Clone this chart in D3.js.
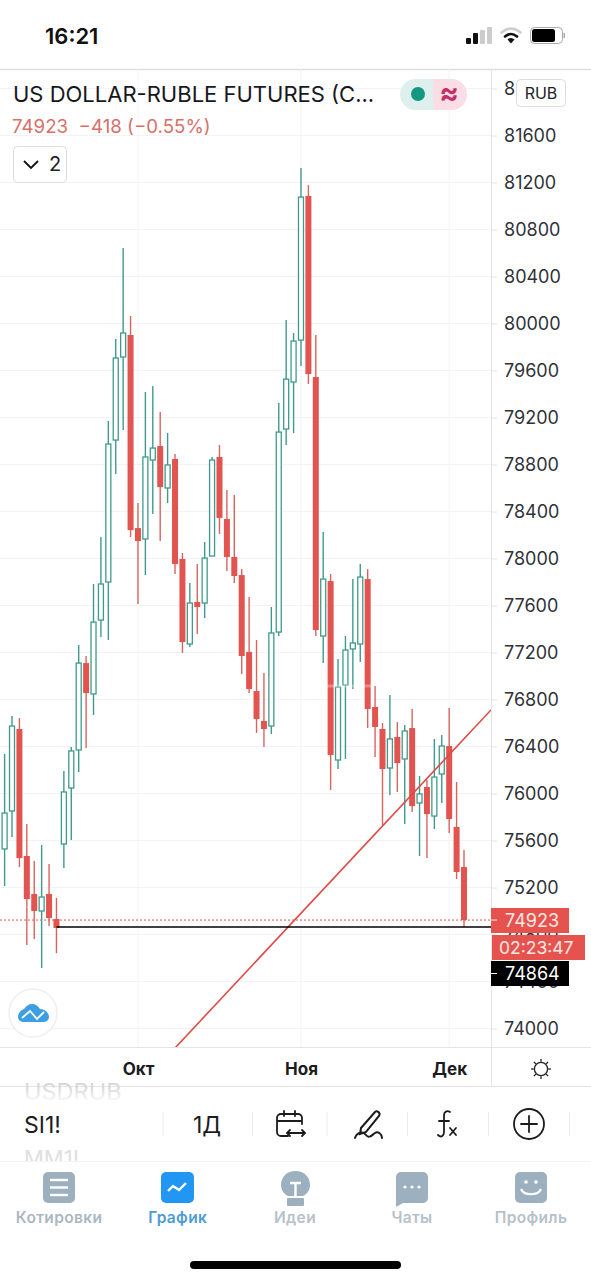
<!DOCTYPE html>
<html><head><meta charset="utf-8">
<script src="https://cdn.jsdelivr.net/npm/d3@7"></script>
<style>
html,body{margin:0;padding:0;background:#fff}
svg{display:block}
text{font-family:Inter,"Noto Sans",sans-serif}
</style></head><body>
<svg id="c" width="591" height="1280" viewBox="0 0 591 1280"></svg>
<script>
const opens=[75528,75851,76549,75468,75145,75000,75145,74932,75570,76047,
76370,77110,76847,77476,77800,79008,79715,79902,78259,78166,
78838,78957,78600,78847,77996,77272,77630,77621,78021,78864,
78336,78013,77859,77204,76872,76617,76574,77374,79102,79502,
79859,81085,79545,77340,77808,76285,76923,77230,77272,77825,
76736,76549,76217,76481,76294,76557,75919,76055,75808,76166,
76404,75715,75374];
const closes=[75834,76574,75451,75102,75000,75119,74940,74855,76013,76362,
77110,76855,77459,77783,78974,79706,79919,78242,78149,78864,
78940,78608,78796,77953,77289,77621,77587,78004,78838,78345,
78013,77851,77170,76889,76634,76549,77366,79076,79527,79851,
81076,79570,77391,77825,76328,76906,77221,77281,77842,76719,
76566,76208,76464,76259,76532,75893,75996,75825,76140,76404,
75783,75332,74923];
const highs=[76336,76659,76642,75740,75425,75562,75400,75111,76191,76396,
77264,77170,77783,78183,79170,79868,80642,80064,78472,79417,
79468,79247,79068,78889,78047,77791,77953,78140,78864,78966,
78583,78540,77910,77672,77306,77025,77587,79323,80030,79919,
81323,81179,79902,78225,77868,77145,77340,77825,77953,77910,
76915,76600,76838,76608,76583,76719,76149,76115,76464,76498,
76727,76098,75519];
const lows=[75213,75630,75374,74710,74762,74515,74872,74642,75366,75604,
76183,76387,76668,77332,77306,78719,79093,78183,77613,77859,
78379,78149,78472,77868,77196,77247,77357,77493,78021,78208,
77893,77791,77017,76855,76515,76396,76506,77340,78966,79068,
79638,79485,77340,77110,76030,76208,76294,76889,77119,76557,
76311,75732,75987,76013,75740,75842,75468,75451,75698,75919,
75664,75272,74864];
const priceTicks=[74000,74400,74800,75200,75600,76000,76400,76800,77200,77600,78000,78400,78800,79200,79600,80000,80400,80800,81200,81600,82000];
const monthIndex=[18,40,60];
const monthLabels=["Окт","Ноя","Дек"];
const trendIndex=[23,65.64];
const trendPrice=[73834,76711];
const lastPrice=74923;
const drawnLevel=74864;
const drawnLevelStart=7;
const titleText="US DOLLAR-RUBLE FUTURES (C...";
const changeText="74923  −418 (−0.55%)";
const countdownText="02:23:47";
const tabLabels=["Котировки","График","Идеи","Чаты","Профиль"];

const RED="#e2544f",GREEN="#3f9a8d",GRID="#f2f3f6",BORDER="#e3e4e8";
const svg=d3.select("#c");
const x=d3.scaleLinear().domain([0,62]).range([4.6,464]);
const y=d3.scaleLinear().domain([74000,82000]).range([1028.5,88.5]);
const plotRight=491,plotTop=69,plotBottom=1048;
const defs=svg.append("defs");
defs.append("clipPath").attr("id","plot").append("rect").attr("x",0).attr("y",plotTop).attr("width",plotRight).attr("height",plotBottom-plotTop);
const fade=defs.append("linearGradient").attr("id","fadeDown").attr("x1",0).attr("x2",0).attr("y1",0).attr("y2",1);
fade.append("stop").attr("offset",0).attr("stop-color","#fff").attr("stop-opacity",0);
fade.append("stop").attr("offset",1).attr("stop-color","#fff").attr("stop-opacity",1);

// status bar
svg.append("text").attr("x",45).attr("y",44).attr("font-size",22).attr("font-weight",600).attr("fill","#111").text("16:21");
[[466,38,5,6,"#111"],[473,33,5,11,"#111"],[480,30,5,14,"#ccc"],[487,27,5,17,"#ccc"]].forEach(b=>
  svg.append("rect").attr("x",b[0]).attr("y",b[1]).attr("width",b[2]).attr("height",b[3]).attr("rx",1).attr("fill",b[4]));
const wifi=svg.append("g").attr("fill","none").attr("stroke-linecap","round");
wifi.append("path").attr("d","M501.5 32.5Q511 24.5 520.5 32.5").attr("stroke","#ccc").attr("stroke-width",2.6);
wifi.append("path").attr("d","M505 36.5Q511 31.5 517 36.5").attr("stroke","#111").attr("stroke-width",2.6);
svg.append("path").attr("d","M507.5 39.5Q511 36.5 514.5 39.5L511 43.5Z").attr("fill","#111");
svg.append("rect").attr("x",530.5).attr("y",27.5).attr("width",32).attr("height",16).attr("rx",4).attr("fill","none").attr("stroke","#aaa");
svg.append("rect").attr("x",532).attr("y",29).attr("width",23).attr("height",13).attr("rx",2.5).attr("fill","#000");
svg.append("rect").attr("x",563.5).attr("y",33).attr("width",1.5).attr("height",5).attr("fill","#aaa");
svg.append("line").attr("x1",0).attr("x2",591).attr("y1",69.5).attr("y2",69.5).attr("stroke","#dfdfdf").attr("stroke-width",1.5);

// grid
const grid=svg.append("g").attr("clip-path","url(#plot)");
grid.selectAll("line.h").data(priceTicks).join("line").attr("class","h")
  .attr("x1",0).attr("x2",plotRight).attr("y1",d=>y(d)).attr("y2",d=>y(d)).attr("stroke",GRID);
grid.selectAll("line.v").data(monthIndex).join("line").attr("class","v")
  .attr("x1",d=>x(d)).attr("x2",d=>x(d)).attr("y1",plotTop).attr("y2",plotBottom).attr("stroke",GRID);

// price axis
const yAxis=d3.axisRight(y).tickValues(priceTicks).tickSize(6).tickPadding(7).tickFormat(d3.format("d"));
const gy=svg.append("g").attr("transform",`translate(${plotRight},0)`).call(yAxis);
gy.select(".domain").remove();
gy.selectAll(".tick line").attr("stroke",BORDER);
gy.selectAll(".tick text").attr("font-size",18).attr("font-family","Roboto").attr("fill","#2f3238").attr("dy","0.36em");

// candles
const idx=d3.range(opens.length);
const plot=svg.append("g").attr("clip-path","url(#plot)");
const up=i=>closes[i]>=opens[i];
plot.selectAll("line.wick").data(idx).join("line").attr("class","wick")
  .attr("x1",i=>x(i)).attr("x2",i=>x(i)).attr("y1",i=>y(highs[i])).attr("y2",i=>y(lows[i]))
  .attr("stroke",i=>up(i)?GREEN:"#d9645f").attr("stroke-width",1.4);
plot.selectAll("rect.body").data(idx).join("rect").attr("class","body")
  .attr("x",i=>x(i)-(up(i)?2.5:3))
  .attr("width",i=>up(i)?5:6)
  .attr("y",i=>y(Math.max(opens[i],closes[i])))
  .attr("height",i=>Math.max(1,Math.abs(y(opens[i])-y(closes[i]))))
  .attr("fill",i=>up(i)?"#fff":RED)
  .attr("stroke",i=>up(i)?GREEN:"none").attr("stroke-width",1.3);
// pale band that crosses the candles in the reference
plot.append("rect").attr("x",326).attr("y",684.5).attr("width",46).attr("height",3).attr("fill","#fff").attr("opacity",0.3);

// drawings
plot.append("line").attr("x1",x(trendIndex[0])).attr("y1",y(trendPrice[0])).attr("x2",x(trendIndex[1])).attr("y2",y(trendPrice[1]))
  .attr("stroke","#de4b46").attr("stroke-width",1.6);
plot.append("line").attr("x1",0).attr("x2",plotRight).attr("y1",y(lastPrice)).attr("y2",y(lastPrice))
  .attr("stroke",RED).attr("stroke-width",1).attr("stroke-dasharray","2 2");
plot.append("line").attr("x1",x(drawnLevelStart)).attr("x2",plotRight).attr("y1",y(drawnLevel)).attr("y2",y(drawnLevel))
  .attr("stroke","#000").attr("stroke-width",1.5);

// borders and time axis
svg.append("rect").attr("x",0).attr("y",plotBottom+0.5).attr("width",591).attr("height",38).attr("fill","#fff");
svg.append("line").attr("x1",0).attr("x2",591).attr("y1",1047.5).attr("y2",1047.5).attr("stroke",BORDER);
svg.append("line").attr("x1",0).attr("x2",591).attr("y1",1086.5).attr("y2",1086.5).attr("stroke",BORDER);
svg.append("line").attr("x1",491.5).attr("x2",491.5).attr("y1",70).attr("y2",1087).attr("stroke",BORDER);
const xAxis=d3.axisBottom(x).tickValues(monthIndex).tickSize(0).tickPadding(0).tickFormat((d,i)=>monthLabels[i]);
const gx=svg.append("g").attr("transform","translate(0,1048)").call(xAxis);
gx.select(".domain").remove();
gx.selectAll(".tick text").attr("y",27).attr("dy",0).attr("font-size",17).attr("font-weight",700).attr("fill","#1c1c1e");

// sun
const sun=svg.append("g").attr("transform","translate(541,1069)").attr("stroke","#222").attr("stroke-width",1.3).attr("fill","none");
sun.append("circle").attr("r",6.6);
d3.range(8).forEach(i=>{const a=i*Math.PI/4;sun.append("line").attr("x1",7.2*Math.cos(a)).attr("y1",7.2*Math.sin(a)).attr("x2",10*Math.cos(a)).attr("y2",10*Math.sin(a));});

// price labels
function tag(x0,w,y0,h,fill,txt,tx,col,fs){
  svg.append("rect").attr("x",x0).attr("y",y0).attr("width",w).attr("height",h).attr("fill",fill);
  svg.append("text").attr("x",tx).attr("y",y0+h/2+6.4).attr("font-size",fs).attr("font-family","Roboto").attr("fill",col).text(txt);
}
tag(491,78,908,25,"#e6534f",String(lastPrice),505,"#ffe9e6",18);
tag(492,93,935,25,"#e6534f",countdownText,499,"#ffe9e6",17.5);
tag(491,78,961,25,"#000",String(drawnLevel),505,"#fff",18);
svg.append("line").attr("x1",491).attr("x2",497).attr("y1",y(lastPrice)).attr("y2",y(lastPrice)).attr("stroke","#ffe9e6");
svg.append("line").attr("x1",491).attr("x2",497).attr("y1",973.5).attr("y2",973.5).attr("stroke","#fff");

// legend overlay
svg.append("text").attr("x",13).attr("y",102).attr("font-size",22).attr("fill","#17181c").text(titleText);
svg.append("text").attr("x",12).attr("y",133).attr("font-size",18.7).attr("fill","#d8706a").style("white-space","pre").text(changeText);
svg.append("path").attr("d","M433 79H415.5a15.5 15.5 0 0 0 0 31H433Z").attr("fill","#def0ed");
svg.append("path").attr("d","M433 79H451.5a15.5 15.5 0 0 1 0 31H433Z").attr("fill","#fbdde6");
svg.append("circle").attr("cx",418).attr("cy",94).attr("r",7).attr("fill","#14977f");
svg.append("text").attr("x",449).attr("y",103).attr("text-anchor","middle").attr("font-size",29).attr("font-weight",700).attr("fill","#c42f66").text("≈");
svg.append("rect").attr("x",516.5).attr("y",79.5).attr("width",49).attr("height",27).attr("rx",4).attr("fill","#fff").attr("stroke","#dcdde0");
svg.append("text").attr("x",541).attr("y",99).attr("text-anchor","middle").attr("font-size",16).attr("fill","#222").text("RUB");
svg.append("rect").attr("x",13.5).attr("y",146.5).attr("width",53).attr("height",36).attr("rx",4).attr("fill","#fff").attr("stroke","#dcdde0");
svg.append("path").attr("d","M24 161l7 7 7-7").attr("fill","none").attr("stroke","#111").attr("stroke-width",1.8);
svg.append("text").attr("x",49).attr("y",171).attr("font-size",20).attr("fill","#222").text("2");

// logo
svg.append("circle").attr("cx",33).attr("cy",1013).attr("r",24).attr("fill","#fff").attr("stroke","#eeeff1").attr("stroke-width",1.5);
svg.append("path").attr("d","M18 1017c0-4 3-7 6-8 2-3 5-5 8-5 4 0 6 2 8 5 5 0 9 4 9 8 0 3-3 5-6 5H24c-3 0-6-2-6-5Z").attr("fill","#3d9fe3");
svg.append("path").attr("d","M22 1018l8-7 7 8 7-7").attr("fill","none").attr("stroke","#fff").attr("stroke-width",1.8);

// toolbar
svg.append("rect").attr("x",0).attr("y",1087.5).attr("width",591).attr("height",192).attr("fill","#fff");
svg.append("text").attr("x",24).attr("y",1099.5).attr("font-size",23.5).attr("fill","#d9d9d9").text("USDRUB");
svg.append("rect").attr("x",0).attr("y",1087.5).attr("width",200).attr("height",16).attr("fill","url(#fadeDown)");
svg.append("text").attr("x",24).attr("y",1133).attr("font-size",23).attr("fill","#1c1c1e").text("SI1!");
svg.append("text").attr("x",24).attr("y",1166).attr("font-size",22).attr("fill","#e0e0e0").text("MM1!");
svg.append("rect").attr("x",0).attr("y",1161.5).attr("width",591).attr("height",118).attr("fill","#fff");
svg.append("line").attr("x1",0).attr("x2",591).attr("y1",1161.5).attr("y2",1161.5).attr("stroke","#f4f4f4");
svg.append("text").attr("x",207).attr("y",1133).attr("text-anchor","middle").attr("font-size",23).attr("fill","#1c1c1e").text("1Д");
[163,252.5,327,407.5,488.5,569.5].forEach(s=>svg.append("line").attr("x1",s).attr("x2",s).attr("y1",1112).attr("y2",1136).attr("stroke","#ebebeb"));
const ic=svg.append("g").attr("fill","none").attr("stroke","#1c1c1e").attr("stroke-width",1.8).attr("stroke-linecap","round");
ic.append("path").attr("d","M288 1136h-7a4 4 0 0 1-4-4v-14a4 4 0 0 1 4-4h17a4 4 0 0 1 4 4v6M277 1121h25M284 1111v5M295 1111v5");
ic.append("path").attr("d","M287 1133h18M290 1130l-3 3 3 3M302 1130l3 3-3 3");
ic.append("path").attr("d","M361 1128l14-16c2-2 6 1 4 4l-13 16-6 2ZM355 1138c2-6 8-7 11-3s6 0 9-2 7 1 7 5").attr("stroke-width",2);
ic.append("path").attr("d","M450 1112c-3-2-6 0-6 3v17c0 4-3 6-6 3M439 1121h10M450 1128l6 7M456 1128l-6 7");
ic.append("circle").attr("cx",529).attr("cy",1124).attr("r",15);
ic.append("path").attr("d","M529 1116v16M521 1124h16");

// tab bar
const tabX=[59,177.7,295,412,531];
const tabCol=["#aab7c2","#4d9bd6","#b6c1ca","#b6c1ca","#b6c1ca"];
tabLabels.forEach((t,i)=>svg.append("text").attr("x",tabX[i]).attr("y",1223).attr("text-anchor","middle").attr("font-size",15.5).attr("font-weight",600).attr("fill",tabCol[i]).style("letter-spacing","0.35px").text(t));
const ICON="#9db0bf";
svg.append("rect").attr("x",43).attr("y",1172).attr("width",32).attr("height",31).attr("rx",5).attr("fill",ICON);
[1180,1187.5,1195].forEach(v=>svg.append("line").attr("x1",50).attr("x2",68).attr("y1",v).attr("y2",v).attr("stroke","#fff").attr("stroke-width",2.4));
svg.append("rect").attr("x",161).attr("y",1172).attr("width",33).attr("height",31).attr("rx",5).attr("fill","#2196f3");
svg.append("path").attr("d","M168 1191l5-5 6 4 7-7").attr("fill","none").attr("stroke","#fff").attr("stroke-width",2.4);
svg.append("path").attr("d","M288 1196c-4-2-7-6-7-11 0-8 6-14 14.500-14s14.500 6 14.500 14c0 5-3 9-7 11Z").attr("fill",ICON);
svg.append("path").attr("d","M290 1183h11M295.500 1183v13").attr("stroke","#fff").attr("stroke-width",2.4).attr("fill","none");
svg.append("rect").attr("x",287).attr("y",1198).attr("width",17).attr("height",8).attr("rx",1).attr("fill",ICON);
svg.append("path").attr("d","M401 1172h22a5 5 0 0 1 5 5v21a5 5 0 0 1-5 5h-20l-7 4v-30a5 5 0 0 1 5-5Z").attr("fill",ICON);
[405,412,419].forEach(v=>svg.append("circle").attr("cx",v).attr("cy",1187).attr("r",1.6).attr("fill","#fff"));
svg.append("rect").attr("x",515).attr("y",1172).attr("width",32).attr("height",31).attr("rx",5).attr("fill",ICON);
svg.append("circle").attr("cx",526).attr("cy",1182).attr("r",1.8).attr("fill","#fff");
svg.append("circle").attr("cx",536).attr("cy",1182).attr("r",1.8).attr("fill","#fff");
svg.append("path").attr("d","M521 1189c3 7 17 7 20 0").attr("fill","none").attr("stroke","#fff").attr("stroke-width",2.2);
svg.append("rect").attr("x",190).attr("y",1261).attr("width",211).attr("height",8).attr("rx",4).attr("fill","#000");
</script>
</body></html>
